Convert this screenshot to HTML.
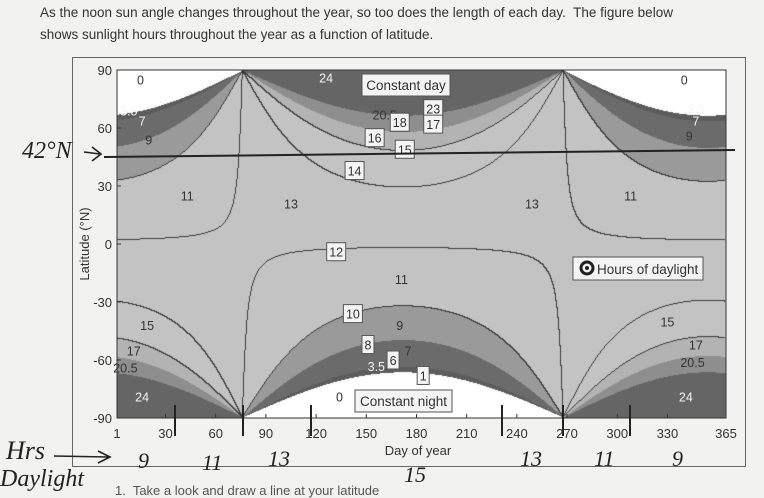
<!DOCTYPE html>
<html><head><meta charset="utf-8"><style>
body{margin:0;width:764px;height:490px;background:#f2f2f0;font-family:"Liberation Sans",sans-serif;position:relative;overflow:hidden}
.t{position:absolute;white-space:nowrap}
.hw{position:absolute;font-family:"Liberation Serif",serif;font-style:italic;color:#222;white-space:nowrap}
</style></head><body>
<div class="t" style="left:40px;top:5px;font-size:13.5px;color:#333">As the noon sun angle changes throughout the year, so too does the length of each day.&nbsp; The figure below</div>
<div class="t" style="left:40px;top:27px;font-size:13.5px;color:#333">shows sunlight hours throughout the year as a function of latitude.</div>
<div style="position:absolute;left:72px;top:57px;width:672px;height:408px;border:1px solid #666"></div>
<canvas id="cv" width="609" height="348" style="position:absolute;left:117px;top:70px"></canvas>
<svg id="sv" width="764" height="490" style="position:absolute;left:0;top:0"></svg>
<div class="t" style="left:115px;top:483px;font-size:13px;color:#555">1.&nbsp; Take a look and draw a line at your latitude</div>
<script>
const levels=[0,4,8,10,16,18,24];
const bandColors=["#ffffff","#5c5c5c","#6b6b6b","#9a9a9a","#c3c3c3","#b3b3b3","#8e8e8e","#656565"];
const lineLevels=[10,12,14,16];
const equinoxDays=[76,268];
const xTicks=[1,30,60,90,120,150,180,210,240,270,300,330,365];
const yTicks=[90,60,30,0,-30,-60,-90];
const labels=[["0",15,85,0,0],["24",126,86,0,1],["3.5",8,69,0,1],["7",16,64,0,1],["9",20,54,0,0],["11",43,25,0,0],["13",105,21,0,0],["13",249,21,0,0],["11",308,25,0,0],["0",340,85,0,0],["3.5",347,70,0,1],["7",347,64,0,1],["9",343,56,0,0],["20.5",161,67,0,0],["23",190,70,1,0],["18",170,63,1,0],["17",190,62,1,0],["16",155,55,1,0],["15",173,49,1,0],["14",143,38,1,0],["12",132,-4,1,0],["11",171,-18,0,0],["10",142,-36,1,0],["9",170,-42,0,0],["15",19,-42,0,0],["15",330,-40,0,0],["17",11,-55,0,0],["17",347,-52,0,0],["20.5",6,-64,0,0],["20.5",345,-61,0,0],["8",151,-52,1,0],["7",175,-55,0,0],["6",166,-60,1,0],["3.5",156,-63,0,1],["1",184,-68,1,0],["24",16,-79,0,1],["24",341,-79,0,1],["0",134,-79,0,0]];
const X0=117,X1=726,Y0=70,Y1=418;
const xs=d=>X0+(d-1)/364*(X1-X0), ys=l=>Y0+(90-l)/180*(Y1-Y0);
function decl(d){const a=equinoxDays[0],b=equinoxDays[1];let s;
if(d>=a&&d<=b)s=Math.sin(Math.PI*(d-a)/(b-a));else{let dd=d<a?d+365:d;s=-Math.sin(Math.PI*(dd-b)/(365-(b-a)));}
return 23.44*Math.PI/180*s;}
function hours(d,lat){const dec=decl(d);const p=lat*Math.PI/180;let v=-Math.tan(p)*Math.tan(dec);if(v>=1)return 0;if(v<=-1)return 24;return 24/Math.PI*Math.acos(v)+0.12;}
function band(h){if(h<=0.01)return 0;if(h>=23.99)return levels.length;for(let i=1;i<levels.length;i++)if(h<levels[i])return i;return levels.length-1;}
const cv=document.getElementById('cv'),ctx=cv.getContext('2d'),W=609,H=348;
const img=ctx.createImageData(W,H);const hv=new Float32Array(W*H);
for(let j=0;j<H;j++)for(let i=0;i<W;i++){const d=1+i/(W-1)*364,l=90-j/(H-1)*180;hv[j*W+i]=hours(d,l);}
function rgb(c){return[parseInt(c.substr(1,2),16),parseInt(c.substr(3,2),16),parseInt(c.substr(5,2),16)];}
for(let j=0;j<H;j++)for(let i=0;i<W;i++){const h=hv[j*W+i];let c=rgb(bandColors[band(h)]);
let line=false;if(i<W-1&&j<H-1){const a=hv[j*W+i],b=hv[j*W+i+1],e=hv[(j+1)*W+i];for(const L of lineLevels){if((a-L)*(b-L)<0||(a-L)*(e-L)<0){line=true;break;}}}
if(line)c=[60,60,60];const k=(j*W+i)*4;img.data[k]=c[0];img.data[k+1]=c[1];img.data[k+2]=c[2];img.data[k+3]=255;}
ctx.putImageData(img,0,0);
const sv=document.getElementById('sv');const NS="http://www.w3.org/2000/svg";
function mk(t,a,txt){const e=document.createElementNS(NS,t);for(const k in a)e.setAttribute(k,a[k]);if(txt!==undefined)e.textContent=txt;sv.appendChild(e);return e;}
let e=mk('rect',{x:X0,y:Y0,width:X1-X0,height:Y1-Y0,fill:'none',stroke:'#333','stroke-width':1});


xTicks.forEach(t=>{const x=xs(t);
let tk=mk('line',{x1:x,y1:Y1,x2:x,y2:Y1-4,stroke:'#333'});


let tl=mk('text',{x:x,y:Y1+20,'font-size':13,'text-anchor':'middle',fill:'#333','font-family':'Liberation Sans'},t);

});
yTicks.forEach(t=>{const y=ys(t);
let tk=mk('line',{x1:X0,y1:y,x2:X0+4,y2:y,stroke:'#333'});


let tl=mk('text',{x:X0-5,y:y+5,'font-size':13,'text-anchor':'end',fill:'#333','font-family':'Liberation Sans'},t);

});
e=mk('text',{x:0,y:0,'font-size':13,'text-anchor':'middle',fill:'#333',transform:'translate(89,244) rotate(-90)','font-family':'Liberation Sans'},'Latitude (°N)');


e=mk('text',{x:418,y:455,'font-size':13,'text-anchor':'middle',fill:'#333','font-family':'Liberation Sans'},'Day of year');


labels.forEach(L=>{const x=xs(L[1]),y=ys(L[2]);const w=L[0].length*7+5;
if(L[3]){let b=mk('rect',{x:x-w/2,y:y-9,width:w,height:18,fill:'#f4f4f4',stroke:'#555'});

}
let t=mk('text',{x:x,y:y+5,'font-size':12.5,'text-anchor':'middle',fill:L[4]?'#f4f4f4':'#333','font-family':'Liberation Sans'},L[0]);

});
function box(x,y,w,h,txt,name){let b=mk('rect',{x:x,y:y,width:w,height:h,fill:'#f4f4f4',stroke:'#555'});


let t=mk('text',{x:x+w/2,y:y+h/2+5,'font-size':13.5,'text-anchor':'middle',fill:'#333','font-family':'Liberation Sans'},txt);

}
box(362,74,88,22,'Constant day','constant-day-label');
box(355,390,97,22,'Constant night','constant-night-label');
box(573,257,130,23,'','legend');
e=mk('text',{x:597,y:274,'font-size':13.5,fill:'#333','font-family':'Liberation Sans'},'Hours of daylight');


e=mk('circle',{cx:587,cy:268,r:6,fill:'none',stroke:'#222','stroke-width':3});


mk('circle',{cx:587,cy:268,r:2,fill:'#222'});
e=mk('line',{x1:104,y1:157,x2:735,y2:150,stroke:'#222','stroke-width':2});


[175,243,311,502,563,630].forEach(x=>{let l=mk('line',{x1:x,y1:405,x2:x,y2:436,stroke:'#222','stroke-width':2});

});
e=mk('path',{d:'M54 456 L108 457 M98 451 L110 457 L98 463',stroke:'#222','stroke-width':1.6,fill:'none'});


e=mk('path',{d:'M84 152 L100 154 M92 147 L101 154 L92 161',stroke:'#222','stroke-width':1.6,fill:'none'});


</script>
<div class="hw" style="left:22px;top:138px;font-size:24px">42°N</div>
<div class="hw" style="left:6px;top:436px;font-size:26px">Hrs</div>
<div class="hw" style="left:0px;top:466px;font-size:24px">Daylight</div>
<div class="hw" style="left:138px;top:448px;font-size:22px">9</div>
<div class="hw" style="left:202px;top:450px;font-size:22px">11</div>
<div class="hw" style="left:268px;top:446px;font-size:22px">13</div>
<div class="hw" style="left:404px;top:462px;font-size:22px">15</div>
<div class="hw" style="left:520px;top:446px;font-size:22px">13</div>
<div class="hw" style="left:594px;top:446px;font-size:22px">11</div>
<div class="hw" style="left:672px;top:446px;font-size:22px">9</div>
</body></html>
